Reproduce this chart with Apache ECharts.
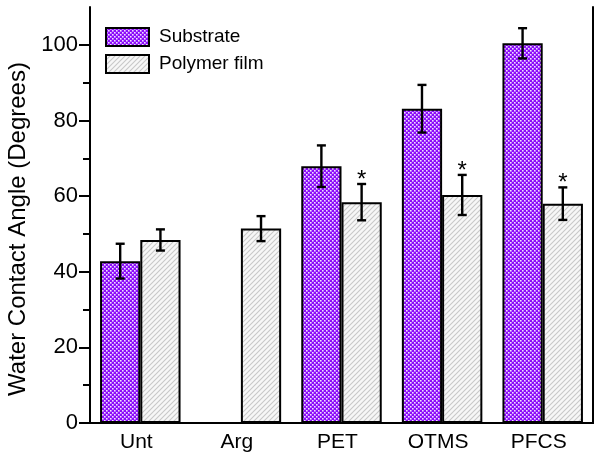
<!DOCTYPE html>
<html>
<head>
<meta charset="utf-8">
<script src="https://cdn.jsdelivr.net/npm/echarts@6/dist/echarts.min.js"></script>
<style>html,body{margin:0;padding:0;background:#fff;}#c{width:601px;height:459px;}</style>
</head>
<body>
<div id="c"></div>
<script>
const categories = ['Unt', 'Arg', 'PET', 'OTMS', 'PFCS'];
const substrate = [42.8, null, 67.9, 83.1, 100.4];
const substrateErr = [4.6, null, 5.5, 6.3, 4.0];
const polymer = [48.4, 51.4, 58.4, 60.3, 58.0];
const polymerErr = [2.8, 3.3, 4.8, 5.3, 4.3];
const polymerStar = [false, false, true, true, true];
const majorTicks = [0, 20, 40, 60, 80, 100];
const minorTicks = [10, 30, 50, 70, 90];

function dotPattern() {
  const c = document.createElement('canvas');
  c.width = 4; c.height = 4;
  const g = c.getContext('2d');
  g.fillStyle = '#8c0cfa';
  g.fillRect(0, 0, 4, 4);
  g.fillStyle = '#f0e0ff';
  g.fillRect(0, 0, 1.6, 1.6);
  g.fillRect(2, 2, 1.6, 1.6);
  return c;
}
function hatchPattern() {
  const c = document.createElement('canvas');
  c.width = 5; c.height = 5;
  const g = c.getContext('2d');
  g.fillStyle = '#f7f7f7';
  g.fillRect(0, 0, 5, 5);
  g.strokeStyle = '#c8c8c8';
  g.lineWidth = 1.1;
  g.beginPath();
  g.moveTo(-1, 6); g.lineTo(6, -1);
  g.moveTo(-1, 1); g.lineTo(1, -1);
  g.moveTo(4, 6); g.lineTo(6, 4);
  g.stroke();
  return c;
}
const dotFill = { image: dotPattern(), repeat: 'repeat' };
const hatchFill = { image: hatchPattern(), repeat: 'repeat' };

const font = 'Liberation Sans, Arial, sans-serif';
const chart = echarts.init(document.getElementById('c'));

function errRender(vals, errs, side, stars) {
  return function (params, api) {
    const i = params.dataIndex;
    if (vals[i] == null) return;
    const band = api.size([1, 0])[0];
    const c = api.coord([i, vals[i]]);
    const x = c[0] + side * band * 0.2;
    const yt = api.coord([i, vals[i] + errs[i]])[1];
    const yb = api.coord([i, vals[i] - errs[i]])[1];
    const cap = 4.5;
    const st = { stroke: '#000', lineWidth: 2.4 };
    const children = [
      { type: 'line', shape: { x1: x, y1: yt, x2: x, y2: yb }, style: st },
      { type: 'line', shape: { x1: x - cap, y1: yt, x2: x + cap, y2: yt }, style: st },
      { type: 'line', shape: { x1: x - cap, y1: yb, x2: x + cap, y2: yb }, style: st }
    ];
    if (stars && stars[i]) {
      children.push({ type: 'text', x: x, y: yt - 4, style: { text: '*', fill: '#000', font: '24px ' + font, align: 'center', verticalAlign: 'middle' } });
    }
    return { type: 'group', children: children };
  };
}

chart.setOption({
  animation: false,
  grid: { left: 90, right: 8, top: 7, bottom: 36, outerBoundsMode: 'none', containLabel: false },
  legend: {
    orient: 'vertical', left: 105, top: 27, padding: 0, itemWidth: 43, itemHeight: 18, itemGap: 7, icon: 'rect',
    textStyle: { fontFamily: font, fontSize: 19, color: '#000', padding: [0, 0, 0, 5] },
    data: ['Substrate', 'Polymer film']
  },
  xAxis: [
    { type: 'category', data: categories, axisLine: { lineStyle: { color: '#000', width: 2 } }, axisTick: { show: false },
      axisLabel: { color: '#000', fontFamily: font, fontSize: 21, margin: 9, padding: [0, 8, 0, 0] } },
    { type: 'category', data: categories, position: 'top', axisLine: { lineStyle: { color: '#000', width: 2 } }, axisTick: { show: false }, axisLabel: { show: false } }
  ],
  yAxis: [
    { type: 'value', min: 0, max: 110, interval: 10, splitLine: { show: false },
      axisLine: { show: true, lineStyle: { color: '#000', width: 2 } },
      axisTick: { show: true, inside: false, length: 11, lineStyle: { color: '#000', width: 2 }, customValues: majorTicks },
      axisLabel: { color: '#000', fontFamily: font, fontSize: 22, margin: 12, customValues: majorTicks },
      name: 'Water Contact Angle (Degrees)', nameLocation: 'middle', nameGap: 47,
      nameTextStyle: { color: '#000', fontFamily: font, fontSize: 24, padding: [0, 28, 0, 0] } },
    { type: 'value', min: 0, max: 110, interval: 10, position: 'left', splitLine: { show: false },
      axisLine: { show: false },
      axisTick: { show: true, length: 7, lineStyle: { color: '#000', width: 2 }, customValues: minorTicks },
      axisLabel: { show: false } },
    { type: 'value', min: 0, max: 110, position: 'right', splitLine: { show: false },
      axisLine: { show: true, lineStyle: { color: '#000', width: 2 } }, axisTick: { show: false }, axisLabel: { show: false } }
  ],
  series: [
    { name: 'Substrate', type: 'bar', data: substrate, barGap: '0%', barCategoryGap: '20%',
      itemStyle: { color: dotFill, borderColor: '#000', borderWidth: 2 } },
    { name: 'Polymer film', type: 'bar', data: polymer,
      itemStyle: { color: hatchFill, borderColor: '#000', borderWidth: 2 } },
    { type: 'custom', data: substrate.map((v, i) => [i, v]), renderItem: errRender(substrate, substrateErr, -1, null), z: 5 },
    { type: 'custom', data: polymer.map((v, i) => [i, v]), renderItem: errRender(polymer, polymerErr, 1, polymerStar), z: 5 }
  ]
});
</script>
</body>
</html>
